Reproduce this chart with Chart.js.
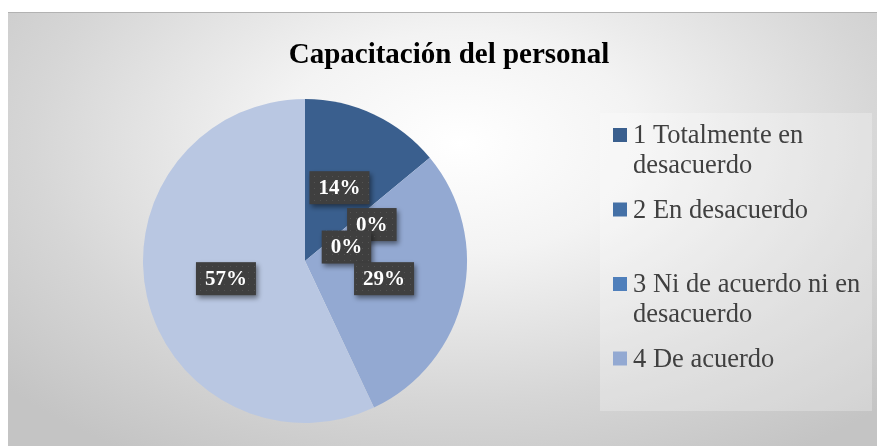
<!DOCTYPE html>
<html>
<head>
<meta charset="utf-8">
<script src="https://cdn.jsdelivr.net/npm/chart.js@4.4.0/dist/chart.umd.min.js"></script>
<style>
    html, body { margin: 0; padding: 0; background: #ffffff; }
    #frame {
        position: absolute; left: 8px; top: 12px; width: 869px; height: 434px;
        border-top: 1px solid #b2b2b2;
        box-sizing: border-box;
        background: radial-gradient(ellipse 70% 85% at 52% 30%, #ffffff 0%, #f3f3f3 30%, #d6d6d6 70%, #c4c4c4 100%);
    }
    #wrap { position: absolute; left: 0; top: 0; width: 877px; height: 446px; }
</style>
</head>
<body>
<div id="frame"></div>
<div id="wrap"><canvas id="pieChart" width="877" height="446"></canvas></div>
<script>
// Data
const chartTitle = 'Capacitación del personal';
const categories = [
    '1 Totalmente en desacuerdo',
    '2 En desacuerdo',
    '3 Ni de acuerdo ni en desacuerdo',
    '4 De acuerdo',
    '5 Totalmente de acuerdo'
];
const percentages = [14, 0, 0, 29, 57];

const sliceColors = ['#3a5f8e', '#4470a6', '#4f7fbb', '#93a9d2', '#b9c7e2'];

// label placement tweaks (fraction of radius, extra angle in degrees) so the 0% boxes don't stack
const labelRadius = [0.5, 0.47, 0.27, 0.5, 0.5];
const labelShift = [0, 11, 21, 0, 0];

const serif = '"Liberation Serif", "Times New Roman", serif';

function dotPattern(ctx) {
    const c = document.createElement('canvas');
    c.width = 6; c.height = 6;
    const p = c.getContext('2d');
    p.fillStyle = '#3f3f3f';
    p.fillRect(0, 0, 6, 6);
    p.fillStyle = '#545454';
    p.fillRect(2, 2, 1, 1);
    return ctx.createPattern(c, 'repeat');
}

// title + data labels + legend, all drawn on the canvas
const decorPlugin = {
    id: 'decor',
    afterDraw(chart) {
        const ctx = chart.ctx;

        // title
        ctx.save();
        ctx.font = 'bold 29px ' + serif;
        ctx.fillStyle = '#000000';
        ctx.textAlign = 'center';
        ctx.textBaseline = 'middle';
        ctx.fillText(chartTitle, 449, 56);
        ctx.restore();

        // data labels
        const meta = chart.getDatasetMeta(0);
        const pattern = dotPattern(ctx);
        meta.data.forEach((arc, i) => {
            const p = arc.getProps(['x', 'y', 'startAngle', 'endAngle', 'outerRadius'], true);
            const ang = (p.startAngle + p.endAngle) / 2 + labelShift[i] * Math.PI / 180;
            const r = p.outerRadius * labelRadius[i];
            const cx = p.x + Math.cos(ang) * r;
            const cy = p.y + Math.sin(ang) * r;
            const txt = percentages[i] + '%';

            ctx.save();
            ctx.font = 'bold 21px ' + serif;
            const w = ctx.measureText(txt).width + 18;
            const h = 33;
            ctx.shadowColor = 'rgba(0,0,0,0.45)';
            ctx.shadowBlur = 5;
            ctx.shadowOffsetX = 2;
            ctx.shadowOffsetY = 3;
            ctx.fillStyle = pattern;
            ctx.fillRect(cx - w / 2, cy - h / 2, w, h);
            ctx.shadowColor = 'transparent';
            ctx.fillStyle = '#ffffff';
            ctx.textAlign = 'center';
            ctx.textBaseline = 'middle';
            ctx.fillText(txt, cx, cy + 1);
            ctx.restore();
        });

        // legend box (items that don't fit are clipped, like the original)
        const box = { x: 600, y: 113, w: 272, h: 298 };
        ctx.save();
        ctx.fillStyle = 'rgba(255,255,255,0.25)';
        ctx.fillRect(box.x, box.y, box.w, box.h);
        ctx.beginPath();
        ctx.rect(box.x, box.y, box.w, box.h);
        ctx.clip();
        ctx.font = '26.5px ' + serif;
        ctx.textBaseline = 'alphabetic';
        ctx.textAlign = 'left';
        const maxW = 236;
        categories.forEach((label, i) => {
            const base = 143 + i * 74.5;
            ctx.fillStyle = sliceColors[i];
            ctx.fillRect(613, base - 15, 14, 14);
            // wrap words
            const words = label.split(' ');
            const lines = [];
            let line = '';
            words.forEach(wd => {
                const test = line ? line + ' ' + wd : wd;
                if (ctx.measureText(test).width > maxW && line) {
                    lines.push(line);
                    line = wd;
                } else {
                    line = test;
                }
            });
            lines.push(line);
            ctx.fillStyle = '#404040';
            lines.forEach((ln, k) => ctx.fillText(ln, 633, base + k * 30));
        });
        ctx.restore();
    }
};

new Chart(document.getElementById('pieChart').getContext('2d'), {
    type: 'pie',
    data: {
        labels: categories,
        datasets: [{
            data: percentages,
            backgroundColor: sliceColors,
            borderWidth: 0
        }]
    },
    options: {
        responsive: false,
        animation: false,
        events: [],
        layout: {
            padding: { left: 143, top: 99, right: 410, bottom: 23 }
        },
        plugins: {
            legend: { display: false },
            title: { display: false },
            tooltip: { enabled: false }
        }
    },
    plugins: [decorPlugin]
});
</script>
</body>
</html>
